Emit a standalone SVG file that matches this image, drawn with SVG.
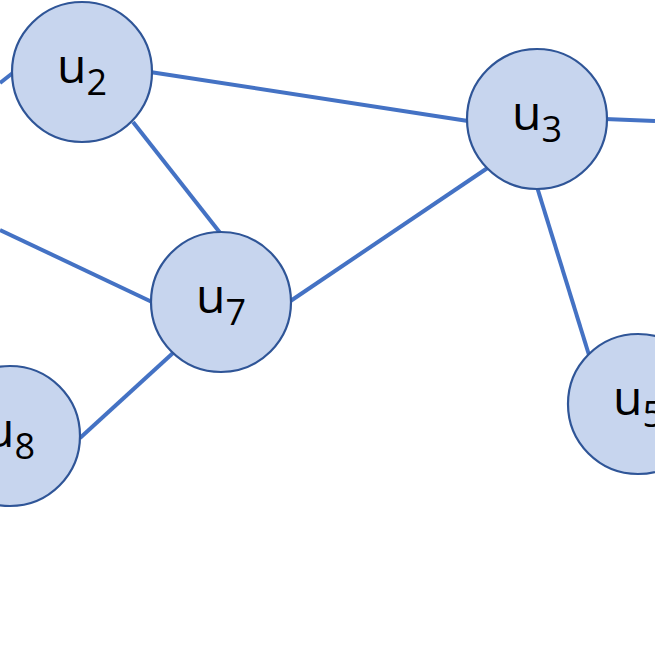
<svg xmlns="http://www.w3.org/2000/svg" width="655" height="655" viewBox="0 0 655 655">
<style>
.edge{stroke:#4472C4;stroke-width:4;fill:none}
.node{fill:#C7D5EE;stroke:#2F5597;stroke-width:2.2}
.lbl{font-family:"Open Sans","Noto Sans",sans-serif;font-size:48px;fill:#000}
.sub{font-size:36px}
</style>
<rect width="655" height="655" fill="#fff"/>
<g id="connectors">
<line class="edge" x1="0" y1="83" x2="14" y2="72"/>
<line class="edge" x1="150" y1="72" x2="468" y2="121"/>
<line class="edge" x1="133" y1="122" x2="221" y2="234"/>
<line class="edge" x1="605" y1="119" x2="655" y2="121"/>
<line class="edge" x1="489" y1="167" x2="289" y2="302"/>
<line class="edge" x1="537" y1="187" x2="589" y2="355"/>
<line class="edge" x1="0" y1="230" x2="152" y2="302"/>
<line class="edge" x1="173" y1="353" x2="80" y2="438"/>
</g>
<g id="u2"><circle class="node" cx="82" cy="72" r="70"/><text class="lbl" x="57" y="83">u<tspan class="sub" dy="12">2</tspan></text></g>
<g id="u3"><circle class="node" cx="537" cy="119" r="70"/><text class="lbl" x="512" y="130">u<tspan class="sub" dy="12">3</tspan></text></g>
<g id="u7"><circle class="node" cx="221" cy="302" r="70"/><text class="lbl" x="196" y="313">u<tspan class="sub" dy="12">7</tspan></text></g>
<g id="u8"><circle class="node" cx="10" cy="436" r="70"/><text class="lbl" x="-15" y="447">u<tspan class="sub" dy="12">8</tspan></text></g>
<g id="u5"><circle class="node" cx="638" cy="404" r="70"/><text class="lbl" x="613" y="415">u<tspan class="sub" dy="12">5</tspan></text></g>
</svg>
